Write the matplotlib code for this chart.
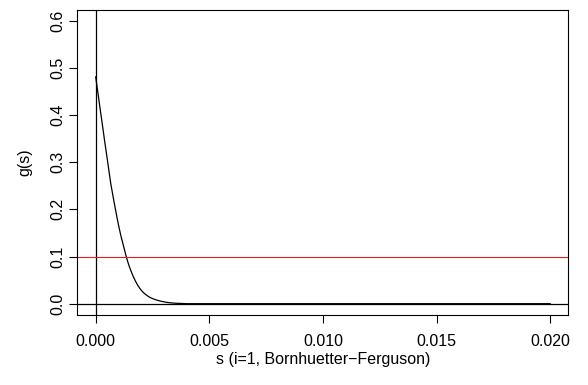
import numpy as np
import matplotlib
matplotlib.use("Agg")
import matplotlib.pyplot as plt

plt.rcParams['font.family'] = ['Liberation Sans', 'DejaVu Sans']

# curve values
s_vals = [0.0, 0.0001, 0.0002, 0.0003, 0.0004, 0.0005, 0.00066, 0.0008, 0.00091,
          0.001, 0.0011, 0.0012, 0.00135, 0.00145, 0.00155, 0.00165, 0.00175,
          0.00185, 0.00195, 0.00205, 0.00216, 0.0023, 0.0024, 0.00255, 0.00267,
          0.0028, 0.003, 0.0031, 0.00326, 0.0035, 0.004, 0.01, 0.02]
g_vals = [0.481, 0.447, 0.412, 0.378, 0.343, 0.31, 0.256, 0.218, 0.19,
          0.168, 0.146, 0.127, 0.099, 0.083, 0.07, 0.058, 0.048,
          0.039, 0.032, 0.026, 0.021, 0.016, 0.013, 0.010, 0.008,
          0.006, 0.004, 0.003, 0.002, 0.001, 0.0, 0.0, 0.0]
threshold = 0.1

x_ticks = [0.000, 0.005, 0.010, 0.015, 0.020]
x_labels = ["0.000", "0.005", "0.010", "0.015", "0.020"]
y_ticks = [0.0, 0.1, 0.2, 0.3, 0.4, 0.5, 0.6]
y_labels = ["0.0", "0.1", "0.2", "0.3", "0.4", "0.5", "0.6"]

fig = plt.figure(figsize=(5.88, 3.85), dpi=100)
ax = fig.add_axes([0.1318, 0.1818, 0.8347, 0.7935])

ax.plot(s_vals, g_vals, color='black', lw=0.9)
ax.axhline(0, color='black', lw=0.9)
ax.axvline(0, color='black', lw=0.9)
ax.axhline(threshold, color='#e02020', lw=0.8)

ax.set_xlim(-0.0008, 0.0208)
ax.set_ylim(-0.024, 0.624)
ax.set_xticks(x_ticks)
ax.set_xticklabels(x_labels)
ax.set_yticks(y_ticks)
ax.set_yticklabels(y_labels, rotation=90, va='center')
ax.tick_params(axis='both', length=6, width=0.8, labelsize=11.5, colors='black')
ax.tick_params(axis='x', pad=8)
ax.tick_params(axis='y', pad=3)

for sp in ax.spines.values():
    sp.set_linewidth(0.8)

ax.set_xlabel("s (i=1, Bornhuetter\u2212Ferguson)", fontsize=11.5, va='center')
ax.set_ylabel("g(s)", fontsize=11.5, va='center')
ax.xaxis.set_label_coords(0.5, -0.145)
ax.yaxis.set_label_coords(-0.107, 0.5)

fig.savefig("out.png", dpi=100)
